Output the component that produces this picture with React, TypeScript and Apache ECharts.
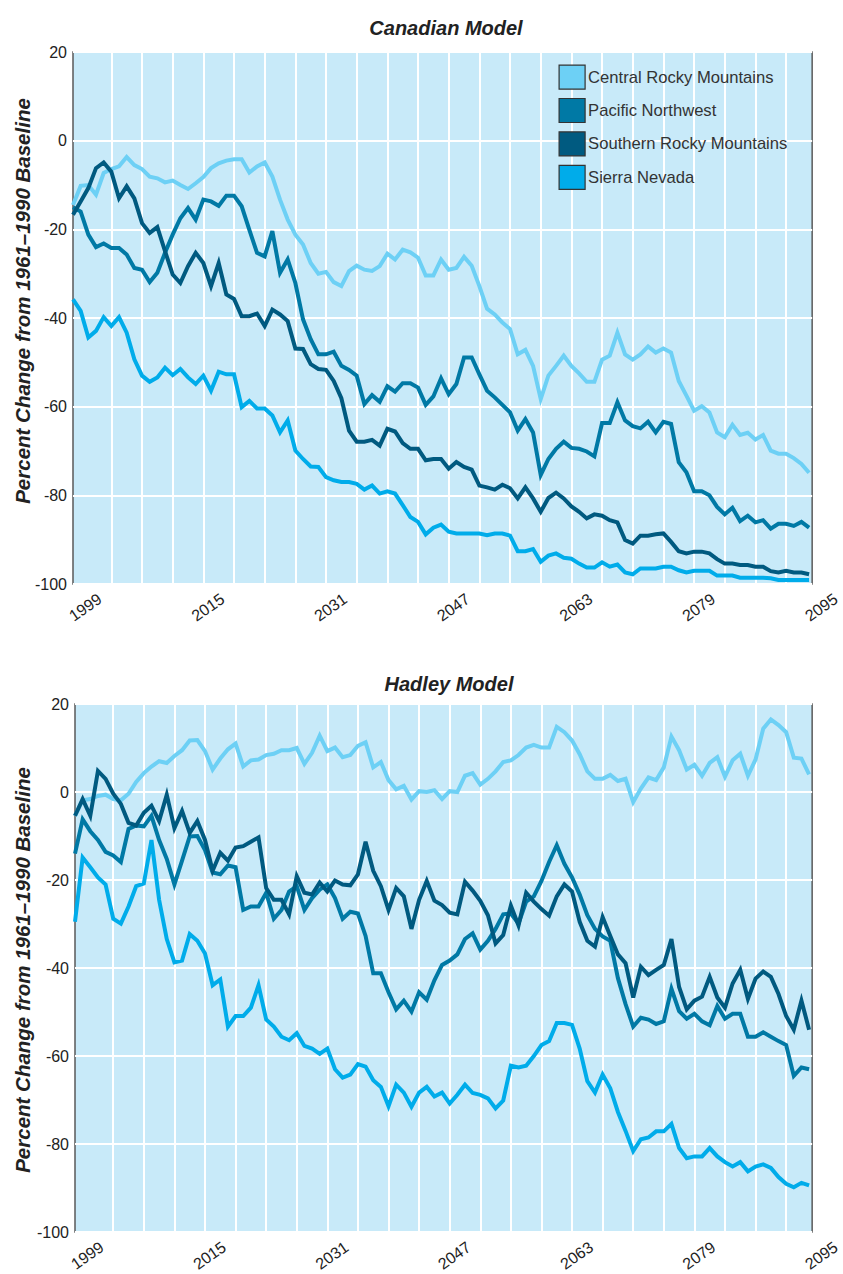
import React, { useEffect, useRef } from 'react';
import * as echarts from 'echarts';

const START_YEAR = 1999;
const xTickLabels = [1999, 2015, 2031, 2047, 2063, 2079, 2095];
const gridYears = [2004, 2008, 2012, 2016, 2020, 2024, 2028, 2032, 2036, 2040, 2044, 2048, 2052, 2056, 2060, 2064, 2068, 2072, 2076, 2080, 2084, 2088, 2092];
const seriesNames = ['Central Rocky Mountains', 'Pacific Northwest', 'Southern Rocky Mountains', 'Sierra Nevada'];
const colors = ['#6dd0f5', '#0079a5', '#005a80', '#00acea'];

const canCentral = [-14.5, -10.2, -10.0, -12.2, -7.3, -6.4, -5.8, -3.7, -5.5, -6.4, -8.1, -8.5, -9.4, -9.0, -10.0, -10.9, -9.6, -8.2, -6.2, -5.1, -4.5, -4.2, -4.2, -7.2, -5.8, -4.9, -8.1, -13.3, -17.8, -21.2, -23.4, -27.6, -30.0, -29.6, -31.9, -32.8, -29.4, -28.2, -29.1, -29.4, -28.3, -25.5, -26.8, -24.6, -25.2, -26.4, -30.4, -30.4, -26.8, -29.1, -28.7, -26.2, -28.2, -32.8, -37.9, -39.2, -41.0, -42.5, -48.2, -47.2, -50.8, -58.3, -53.0, -50.8, -48.5, -50.8, -52.5, -54.4, -54.4, -49.4, -48.5, -43.3, -48.2, -49.4, -48.2, -46.4, -47.8, -46.9, -47.8, -54.2, -57.5, -60.9, -59.9, -61.3, -65.8, -66.9, -64.1, -66.4, -65.9, -67.4, -66.4, -69.9, -70.6, -70.6, -71.6, -72.9, -74.9];
const canPacific = [-15.0, -16.0, -21.2, -24.0, -23.2, -24.2, -24.2, -25.7, -28.7, -29.1, -31.9, -29.8, -25.3, -21.2, -17.5, -15.2, -17.8, -13.3, -13.7, -14.7, -12.4, -12.4, -14.8, -20.1, -25.3, -26.1, -20.4, -29.8, -26.8, -32.1, -40.3, -44.8, -48.2, -48.2, -47.6, -50.8, -51.7, -53.0, -59.4, -57.4, -58.9, -55.4, -56.6, -54.7, -54.7, -55.7, -59.6, -57.7, -53.6, -57.2, -54.9, -48.9, -48.9, -52.7, -56.4, -57.9, -59.6, -61.3, -65.4, -62.8, -65.8, -75.4, -71.8, -69.5, -67.9, -69.3, -69.5, -70.1, -71.2, -63.7, -63.7, -59.0, -63.1, -64.4, -64.9, -63.4, -65.8, -63.4, -63.9, -72.5, -74.8, -79.1, -79.1, -80.0, -82.6, -84.3, -82.8, -85.8, -84.6, -86.1, -85.6, -87.5, -86.4, -86.4, -86.9, -86.0, -87.3];
const canSouthern = [-16.7, -13.7, -10.7, -6.2, -4.9, -7.0, -13.0, -10.3, -13.0, -18.6, -20.8, -19.5, -24.9, -30.2, -32.1, -28.3, -25.3, -27.6, -32.8, -27.6, -34.7, -35.7, -39.6, -39.6, -39.0, -41.8, -38.1, -39.2, -40.7, -46.9, -47.0, -50.4, -51.5, -51.7, -54.2, -58.1, -65.4, -67.9, -67.9, -67.5, -68.8, -65.0, -65.6, -68.2, -69.5, -69.5, -72.1, -71.8, -71.8, -74.0, -72.5, -73.6, -74.2, -77.8, -78.2, -78.7, -77.6, -78.4, -80.7, -78.2, -80.7, -83.7, -80.6, -79.4, -80.7, -82.5, -83.7, -85.2, -84.3, -84.6, -85.6, -86.1, -90.1, -90.9, -89.1, -89.1, -88.8, -88.6, -90.5, -92.6, -93.1, -92.7, -92.7, -93.1, -94.4, -95.4, -95.4, -95.7, -95.7, -96.1, -96.1, -97.1, -97.4, -97.0, -97.4, -97.4, -97.8];
const canSierra = [-35.8, -38.4, -44.4, -42.9, -39.8, -41.8, -39.8, -43.3, -49.3, -53.0, -54.4, -53.4, -51.2, -52.9, -51.5, -53.4, -54.9, -53.0, -56.4, -52.1, -52.7, -52.7, -60.1, -58.7, -60.4, -60.4, -62.0, -65.8, -63.1, -69.9, -71.8, -73.5, -73.6, -75.9, -76.6, -77.0, -77.0, -77.4, -78.7, -77.8, -79.6, -79.1, -79.6, -82.2, -84.9, -86.0, -88.8, -87.3, -86.6, -88.2, -88.6, -88.6, -88.6, -88.6, -89.0, -88.6, -88.6, -89.1, -92.6, -92.6, -92.1, -95.0, -93.6, -93.1, -94.1, -94.3, -95.4, -96.3, -96.3, -95.1, -96.1, -95.6, -97.4, -97.8, -96.5, -96.5, -96.5, -96.1, -96.1, -96.9, -97.4, -97.0, -97.0, -97.0, -98.1, -98.1, -98.1, -98.6, -98.6, -98.6, -98.6, -98.7, -99.1, -99.1, -99.1, -99.1, -99.1];

const hadCentral = [-5.4, -1.9, -1.6, -0.9, -0.6, -1.6, -1.9, -0.4, 2.3, 4.3, 5.8, 7.0, 6.6, 8.2, 9.5, 11.7, 11.8, 9.3, 5.1, 7.6, 9.7, 11.0, 5.8, 7.2, 7.4, 8.4, 8.7, 9.5, 9.5, 10.0, 6.4, 8.9, 12.8, 9.3, 10.1, 7.9, 8.4, 10.5, 11.3, 5.6, 6.8, 2.7, 0.6, 1.4, -1.7, 0.2, 0.0, 0.4, -1.6, 0.2, 0.0, 3.7, 4.3, 1.7, 3.0, 4.7, 6.8, 7.2, 8.4, 10.1, 10.7, 10.1, 10.1, 14.8, 13.6, 11.7, 8.6, 4.7, 3.0, 3.0, 3.9, 2.5, 3.0, -2.3, 0.8, 3.3, 2.7, 5.6, 12.6, 9.5, 5.1, 6.2, 3.7, 6.6, 7.9, 3.5, 7.2, 8.7, 3.7, 7.4, 14.4, 16.5, 15.2, 13.6, 7.8, 7.6, 4.0];
const hadPacific = [-14.0, -6.2, -8.9, -10.9, -13.6, -14.4, -15.9, -8.4, -7.6, -7.8, -5.4, -10.9, -15.2, -21.0, -15.6, -10.1, -10.0, -13.2, -18.3, -18.7, -16.7, -17.1, -26.8, -26.0, -26.0, -22.9, -28.8, -26.8, -22.6, -21.4, -26.8, -24.1, -22.2, -21.0, -24.1, -28.8, -27.2, -27.6, -32.7, -41.2, -41.2, -45.5, -49.4, -47.4, -49.9, -45.5, -47.2, -42.8, -39.3, -38.3, -36.9, -33.4, -32.1, -35.8, -33.8, -31.1, -27.8, -27.6, -29.9, -24.9, -23.7, -20.2, -15.9, -12.1, -16.3, -19.4, -23.3, -28.0, -31.1, -32.8, -33.8, -42.3, -48.2, -53.3, -51.3, -51.7, -52.7, -52.1, -44.7, -49.8, -51.5, -50.4, -52.1, -53.0, -48.6, -51.5, -50.4, -50.4, -55.6, -55.6, -54.6, -55.6, -56.6, -57.5, -64.5, -62.6, -63.0];
const hadSouthern = [-5.4, -1.6, -5.4, 4.8, 3.0, -0.4, -2.7, -7.0, -7.6, -4.7, -3.1, -6.6, -0.6, -8.2, -4.3, -9.3, -6.6, -10.9, -17.9, -13.8, -15.6, -12.6, -12.3, -11.3, -10.3, -21.8, -24.5, -24.5, -27.8, -19.1, -22.9, -23.3, -20.6, -22.6, -20.1, -21.0, -21.2, -18.7, -11.3, -17.9, -21.4, -26.8, -21.8, -23.7, -31.1, -24.5, -20.2, -24.7, -25.7, -27.4, -27.8, -20.4, -22.4, -24.7, -28.0, -34.4, -32.5, -25.8, -30.3, -22.9, -24.9, -26.6, -28.1, -23.7, -21.0, -22.6, -29.5, -33.8, -35.1, -28.4, -32.7, -36.9, -38.9, -46.7, -39.7, -41.6, -40.4, -39.3, -33.4, -44.3, -49.4, -47.4, -46.5, -42.0, -46.7, -49.0, -43.5, -40.4, -47.0, -42.4, -40.8, -42.0, -45.9, -50.9, -54.0, -47.4, -54.0];
const hadSierra = [-29.5, -14.9, -17.1, -19.4, -21.0, -28.8, -29.9, -26.0, -21.4, -20.8, -10.9, -24.5, -33.4, -38.7, -38.3, -32.3, -33.8, -36.7, -43.9, -42.6, -53.3, -50.9, -50.9, -49.0, -43.9, -51.7, -53.3, -55.6, -56.4, -54.8, -57.7, -58.3, -59.5, -58.3, -63.0, -64.9, -64.2, -61.8, -62.4, -65.5, -67.0, -71.4, -66.5, -68.3, -71.5, -68.3, -67.0, -69.2, -68.3, -70.8, -68.8, -66.5, -68.4, -68.8, -69.6, -71.9, -70.1, -62.2, -62.6, -62.2, -60.0, -57.5, -56.6, -52.5, -52.5, -52.9, -58.3, -65.7, -68.3, -64.2, -67.3, -72.7, -77.0, -81.6, -78.9, -78.5, -77.1, -77.1, -75.4, -80.9, -83.2, -82.8, -82.8, -80.9, -82.8, -84.1, -85.1, -84.1, -86.2, -85.1, -84.6, -85.4, -87.5, -89.0, -89.8, -88.8, -89.4];

const FONT = '"Liberation Sans", Arial, sans-serif';
const X_MAX = 2095.4;

function pairs(values: number[]) {
  return values.map((v, i) => [START_YEAR + i, v]);
}

function App() {
  const ref = useRef<HTMLDivElement>(null);
  useEffect(() => {
    if (!ref.current) return;
    const chart = echarts.init(ref.current, null, { renderer: 'svg' });
    const grids = [
      { left: 73, top: 52, width: 740, height: 532 },
      { left: 75, top: 704, width: 742, height: 532 },
    ];
    const data = [
      [canCentral, canPacific, canSouthern, canSierra],
      [hadCentral, hadPacific, hadSouthern, hadSierra],
    ];
    const series: any[] = [];
    data.forEach((group, gi) => {
      series.push({
        type: 'line',
        name: 'grid' + gi,
        xAxisIndex: gi,
        yAxisIndex: gi,
        data: [],
        silent: true,
        z: 1,
        markLine: {
          silent: true,
          symbol: ['none', 'none'],
          z: 1,
          label: { show: false },
          lineStyle: { color: '#ffffff', width: 2, type: 'solid' },
          data: gridYears.map((y) => ({ xAxis: y })),
        },
      });
      group.forEach((vals, si) => {
        series.push({
          type: 'line',
          name: seriesNames[si],
          xAxisIndex: gi,
          yAxisIndex: gi,
          data: pairs(vals),
          showSymbol: false,
          symbol: 'none',
          z: 3,
          itemStyle: { color: colors[si] },
          lineStyle: { color: colors[si], width: 4, join: 'miter' },
        });
      });
    });

    const option: any = {
      animation: false,
      backgroundColor: '#ffffff',
      legend: {
        data: seriesNames,
        orient: 'vertical',
        left: 558.5,
        top: 64.5,
        padding: 0,
        itemWidth: 26,
        itemHeight: 24,
        itemGap: 8.2,
        icon: 'rect',
        selectedMode: false,
        itemStyle: { borderColor: '#333333', borderWidth: 1.2 },
        textStyle: { fontFamily: FONT, fontSize: 16.6, color: '#333333', padding: [0, 0, 0, -2] },
      },
      grid: grids.map((g) => ({
        ...g,
        show: true,
        backgroundColor: '#c8eaf9',
        borderColor: '#5a5a5a',
        borderWidth: 1.5,
        containLabel: false,
      })),
      xAxis: grids.map((_, gi) => ({
        type: 'value',
        gridIndex: gi,
        min: START_YEAR,
        max: X_MAX,
        interval: 16,
        axisLine: { show: false },
        axisTick: { show: false },
        splitLine: { show: false },
        axisLabel: {
          rotate: 35,
          align: 'center',
          margin: 32,
          padding: [0, 0, 0, 30],
          fontFamily: FONT,
          fontSize: 16,
          color: '#222222',
          formatter: (v: number) => (xTickLabels.indexOf(v) >= 0 ? String(v) : ''),
        },
      })),
      yAxis: grids.map((_, gi) => ({
        type: 'value',
        gridIndex: gi,
        min: -100,
        max: 20,
        interval: 20,
        axisLine: { show: false },
        axisTick: { show: false },
        splitLine: { show: true, lineStyle: { color: '#ffffff', width: 2 } },
        axisLabel: { fontFamily: FONT, fontSize: 16, color: '#222222', margin: 6 },
      })),
      graphic: [
        {
          type: 'text', x: 446, y: 28,
          style: { text: 'Canadian Model', fontFamily: FONT, fontSize: 20, fontWeight: 'bold', fontStyle: 'italic', fill: '#222222', textAlign: 'center', textVerticalAlign: 'middle' },
        },
        {
          type: 'text', x: 449, y: 684,
          style: { text: 'Hadley Model', fontFamily: FONT, fontSize: 20, fontWeight: 'bold', fontStyle: 'italic', fill: '#222222', textAlign: 'center', textVerticalAlign: 'middle' },
        },
        {
          type: 'text', x: 22, y: 301, rotation: Math.PI / 2,
          style: { text: 'Percent Change from 1961–1990 Baseline', fontFamily: FONT, fontSize: 20.5, fontWeight: 'bold', fontStyle: 'italic', fill: '#222222', textAlign: 'center', textVerticalAlign: 'middle' },
        },
        {
          type: 'text', x: 22, y: 970, rotation: Math.PI / 2,
          style: { text: 'Percent Change from 1961–1990 Baseline', fontFamily: FONT, fontSize: 20.5, fontWeight: 'bold', fontStyle: 'italic', fill: '#222222', textAlign: 'center', textVerticalAlign: 'middle' },
        },
      ],
      series,
    };
    chart.setOption(option);
    return () => chart.dispose();
  }, []);
  return <div ref={ref} style={{ position: 'absolute', left: 0, top: 0, width: 843, height: 1274 }} />;
}

export default App;
